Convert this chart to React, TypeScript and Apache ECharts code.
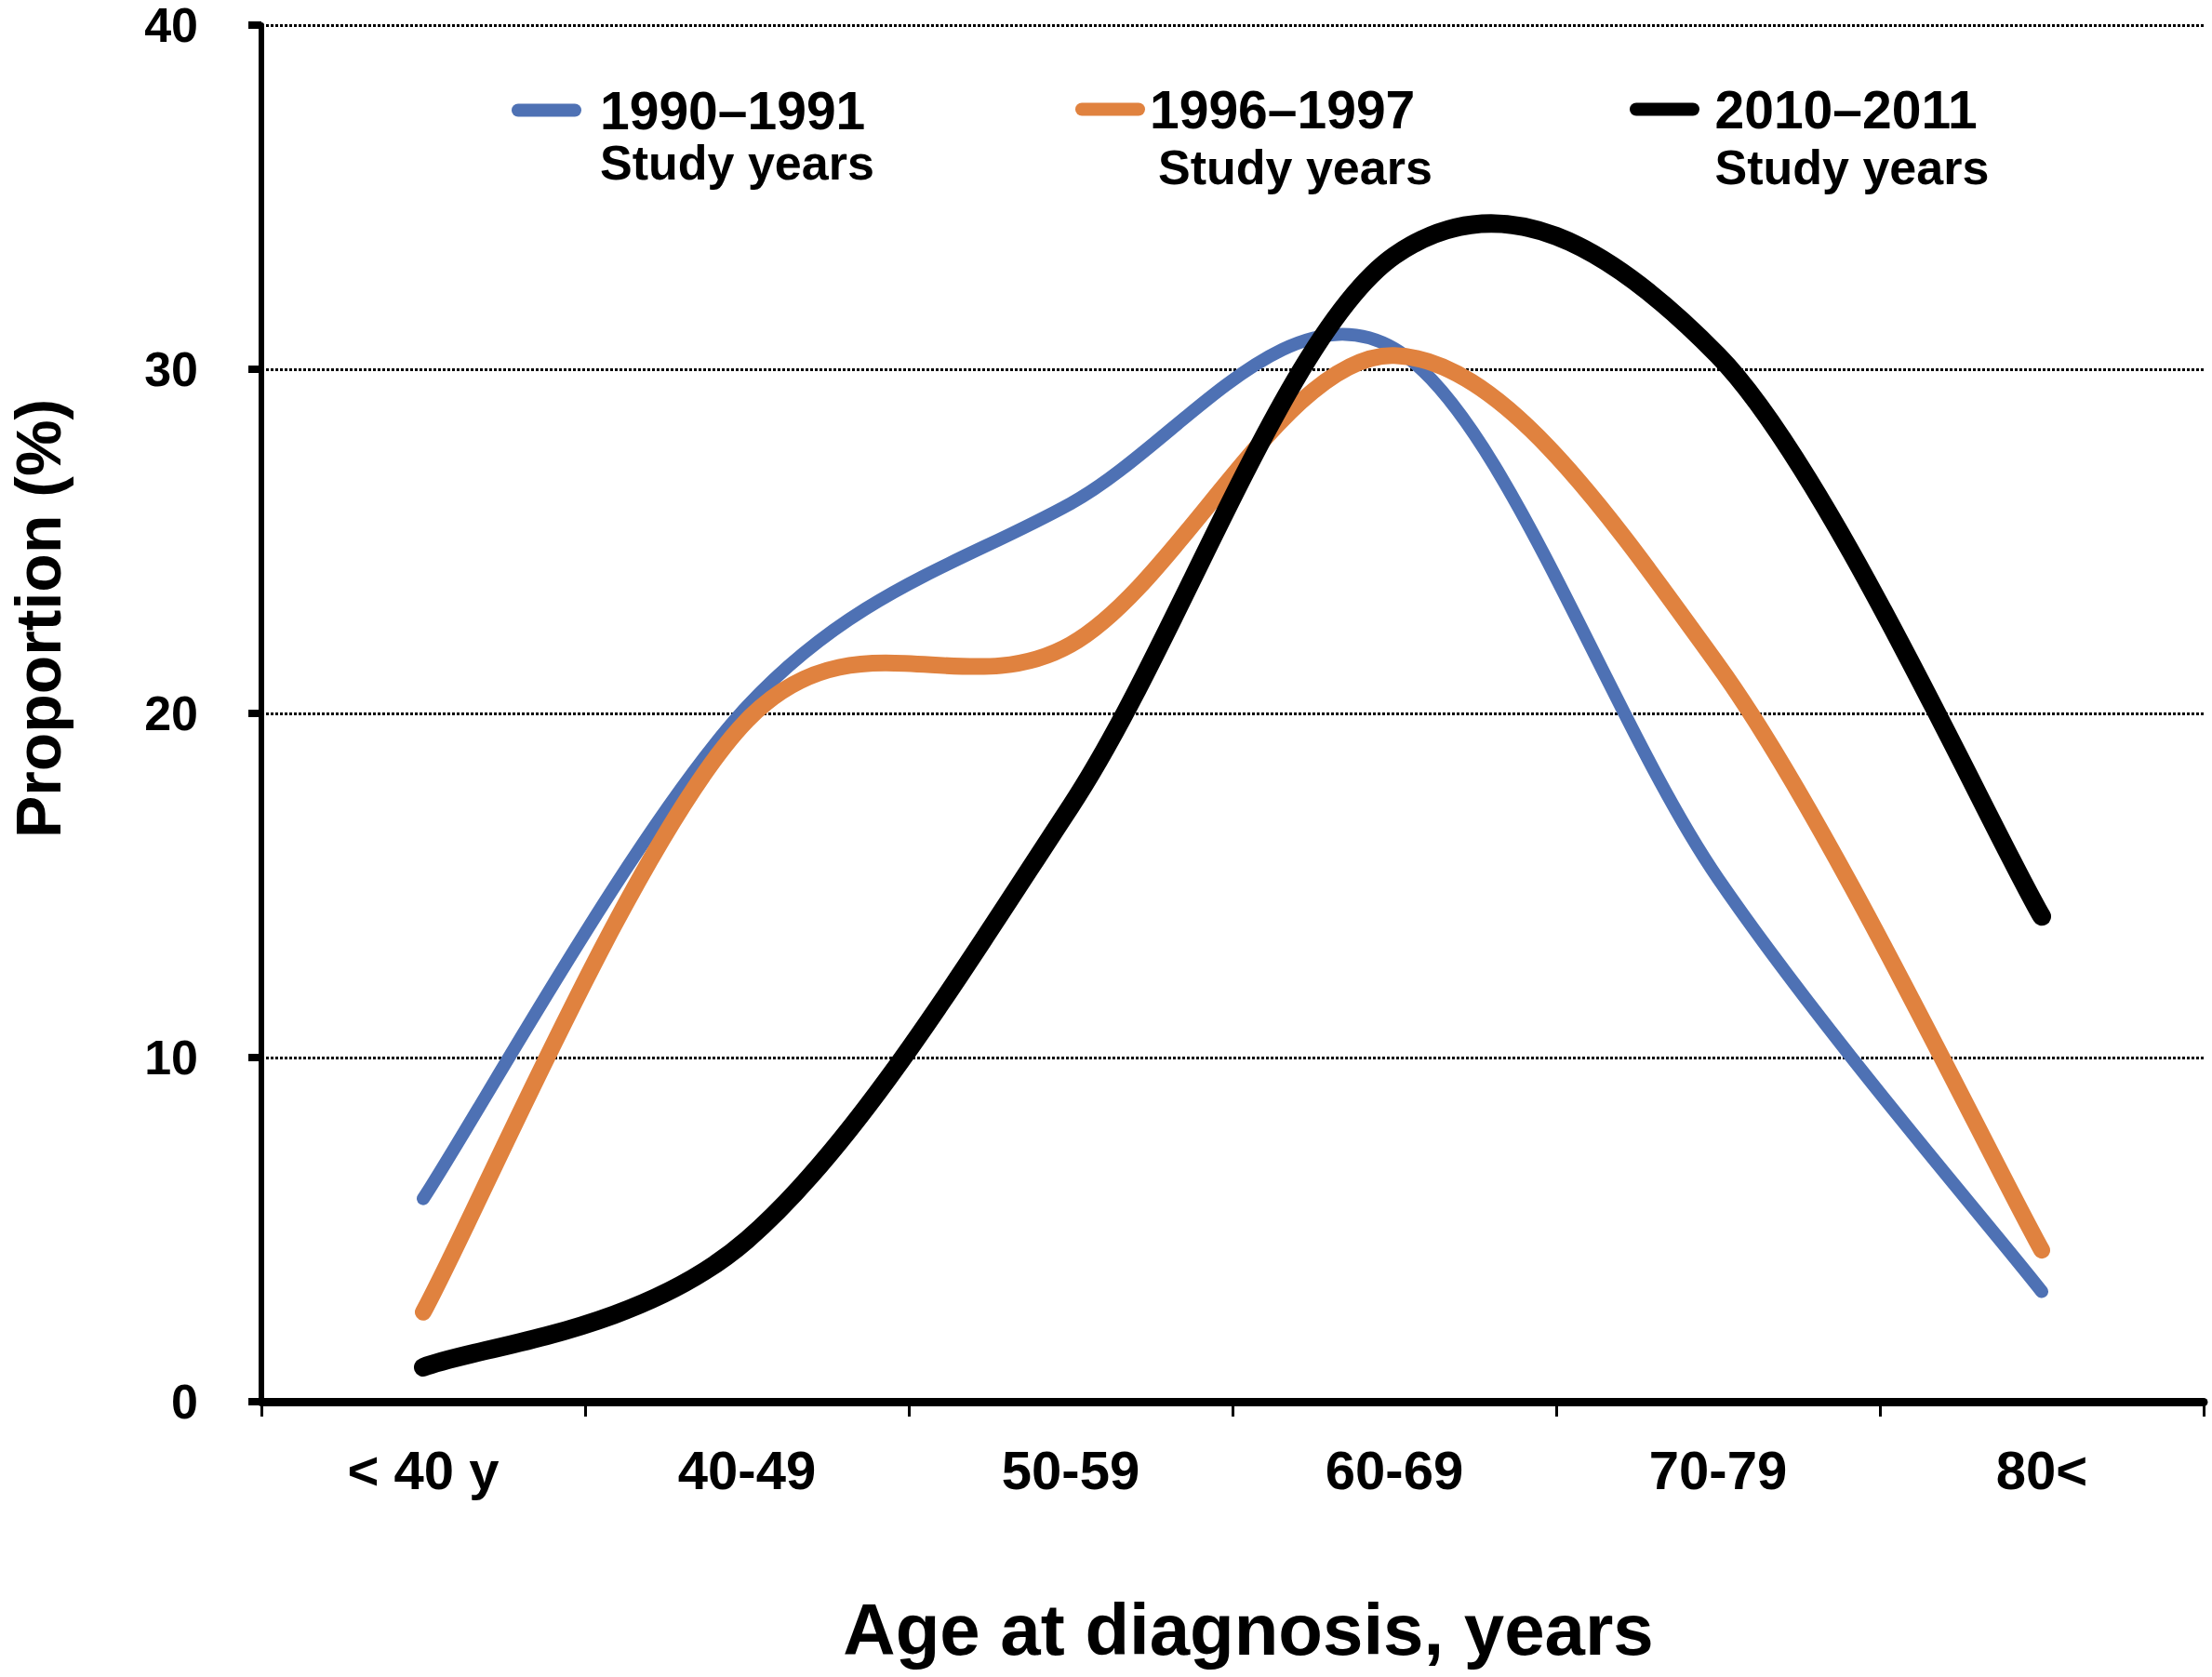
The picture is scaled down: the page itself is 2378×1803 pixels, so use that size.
import React, { useEffect, useRef } from "react";
import * as echarts from "echarts";

const categories = ["< 40 y", "40-49", "50-59", "60-69", "70-79", "80<"];
const seriesNames = ["1990–1991", "1996–1997", "2010–2011"];
const values1990 = [5.9, 20.2, 26.1, 30.6, 15.2, 3.2];
const values1996 = [2.6, 19.8, 22.0, 30.4, 21.4, 4.4];
const values2010 = [1.0, 4.7, 17.3, 33.3, 30.4, 14.1];
const yTicks = [0, 10, 20, 30, 40];
const legendSubtitle = "Study years";
const xAxisTitle = "Age at diagnosis, years";
const yAxisTitle = "Proportion (%)";

const FONT = "'Liberation Sans', Arial, sans-serif";
const COLORS = ["#4E71B4", "#E0823F", "#000000"];
const pill = "path://M7,0L68,0A7,7,0,0,1,68,14L7,14A7,7,0,0,1,7,0Z";

function makeLegend(name: string, left: number, top: number, textPadLeft: number, lh: number, subPad: number, iconW: number) {
  return {
    show: true,
    data: [name],
    left,
    top,
    padding: 0,
    orient: "horizontal",
    selectedMode: false,
    icon: pill,
    itemWidth: iconW,
    itemHeight: 14,
    formatter: (n: string) => `{t|${n}}\n{s|${legendSubtitle}}`,
    textStyle: {
      padding: [lh, 0, 0, textPadLeft],
      color: "#000",
      rich: {
        t: { fontFamily: FONT, fontWeight: "bold", fontSize: 57, lineHeight: lh, color: "#000" },
        s: { fontFamily: FONT, fontWeight: "bold", fontSize: 52, lineHeight: lh, color: "#000", padding: [0, 0, 0, subPad] },
      },
    },
  };
}

// Smooth curve through the data points (Catmull-Rom / Excel-style smoothing),
// positioned with the chart's own coordinate system via api.coord.
function splineSeries(name: string, values: number[], color: string, width: number) {
  return {
    name,
    type: "custom",
    coordinateSystem: "cartesian2d",
    clip: false,
    data: values.map((v, i) => [i, v]),
    encode: { x: 0, y: 1 },
    itemStyle: { color },
    renderItem: (params: any, api: any) => {
      if (params.dataIndex !== 0) return null;
      const pts = values.map((v, i) => api.coord([i, v]));
      const n = pts.length;
      let d = `M${pts[0][0]},${pts[0][1]}`;
      for (let i = 0; i < n - 1; i++) {
        const p0 = pts[Math.max(i - 1, 0)];
        const p1 = pts[i];
        const p2 = pts[i + 1];
        const p3 = pts[Math.min(i + 2, n - 1)];
        const c1x = p1[0] + (p2[0] - p0[0]) / 6;
        const c1y = p1[1] + (p2[1] - p0[1]) / 6;
        const c2x = p2[0] - (p3[0] - p1[0]) / 6;
        const c2y = p2[1] - (p3[1] - p1[1]) / 6;
        d += ` C${c1x},${c1y} ${c2x},${c2y} ${p2[0]},${p2[1]}`;
      }
      return {
        type: "path",
        shape: { pathData: d },
        style: { fill: "none", stroke: color, lineWidth: width, lineCap: "round", lineJoin: "round" },
      };
    },
  };
}

export default function App() {
  const ref = useRef<HTMLDivElement>(null);
  useEffect(() => {
    document.body.style.margin = "0";
    if (!ref.current) return;
    const chart = echarts.init(ref.current, undefined, { renderer: "svg" });
    chart.setOption({
      animation: false,
      backgroundColor: "#ffffff",
      grid: { left: 281, right: 9, top: 27, bottom: 296, containLabel: false },
      legend: [
        makeLegend(seriesNames[0], 550, 90, 15, 56, 0, 75),
        makeLegend(seriesNames[1], 1156, 89, 0, 62, 9, 75),
        makeLegend(seriesNames[2], 1752, 89, 9, 62, 0, 80),
      ],
      xAxis: {
        type: "category",
        data: categories,
        boundaryGap: true,
        axisLine: { show: true, lineStyle: { color: "#000", width: 9 } },
        axisTick: { show: true, length: 16, lineStyle: { color: "#000", width: 3 } },
        axisLabel: { margin: 44, fontFamily: FONT, fontWeight: "bold", fontSize: 58, color: "#000" },
        splitLine: { show: false },
        name: xAxisTitle,
        nameLocation: "middle",
        nameGap: 206,
        nameTextStyle: { fontFamily: FONT, fontWeight: "bold", fontSize: 78, color: "#000", padding: [0, 0, 0, 34] },
      },
      yAxis: {
        type: "value",
        min: yTicks[0],
        max: yTicks[yTicks.length - 1],
        interval: 10,
        axisLine: { show: true, lineStyle: { color: "#000", width: 6 } },
        axisTick: { show: true, length: 14, lineStyle: { color: "#000", width: 8 } },
        axisLabel: {
          margin: 68,
          fontFamily: FONT,
          fontWeight: "bold",
          fontSize: 52,
          lineHeight: 46,
          padding: [8, 0, 0, 0],
          color: "#000",
        },
        splitLine: { show: true, lineStyle: { color: "#000", width: 3, type: [3, 2] } },
      },
      graphic: [
        {
          type: "text",
          x: 41,
          y: 665,
          rotation: Math.PI / 2,
          style: {
            text: yAxisTitle,
            fontFamily: FONT,
            fontWeight: "bold",
            fontSize: 68,
            fill: "#000",
            align: "center",
            verticalAlign: "middle",
          },
        },
      ],
      series: [
        splineSeries(seriesNames[0], values1990, COLORS[0], 14),
        splineSeries(seriesNames[1], values1996, COLORS[1], 18),
        splineSeries(seriesNames[2], values2010, COLORS[2], 20),
      ],
    });
    return () => chart.dispose();
  }, []);
  return <div ref={ref} style={{ width: 2378, height: 1803 }} />;
}
